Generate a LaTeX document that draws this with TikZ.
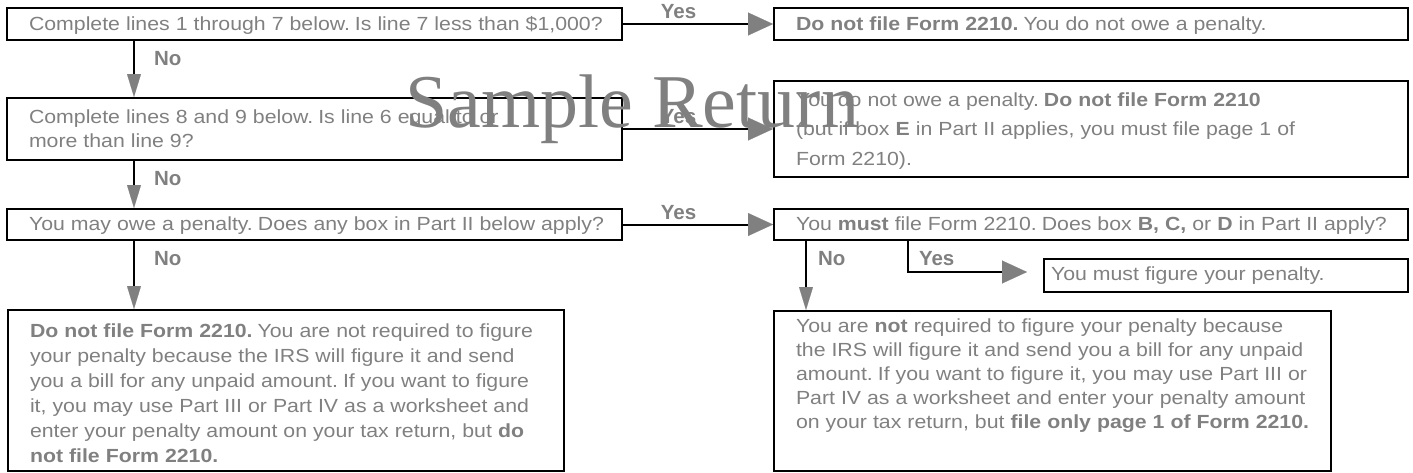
\documentclass[tikz,border=0pt]{standalone}
\usepackage{fontspec}
\setmainfont[FakeStretch=1.12]{Liberation Sans}
\newfontfamily\answerfont{Liberation Sans}
\newfontfamily\stampfont{Liberation Serif}
\usetikzlibrary{arrows.meta}
\definecolor{txtgray}{HTML}{808080}
\definecolor{tipgray}{HTML}{808080}
\tikzset{
  box/.style={draw, line width=2pt, anchor=north west, inner sep=0pt, align=left, text=txtgray,
    execute at begin node={\fontsize{19}{25}\selectfont\spaceskip=6pt plus 2pt minus 1pt\leftskip=#1}},
  box/.default=22pt,
  lines/.style={execute at begin node={\fontsize{19}{#1}\selectfont}},
  answer/.style={font=\answerfont\bfseries\fontsize{20.5}{24}\selectfont, text=txtgray, inner sep=0pt},
  yesarrow/.style={line width=2pt, -{Triangle[length=25pt,width=23pt,color=tipgray,line width=0.1pt]}},
  noarrow/.style={line width=2pt, -{Triangle[length=23pt,width=14pt,color=tipgray,line width=0.1pt]}},
  stamp/.style={font=\stampfont\fontsize{76}{80}\selectfont, text=txtgray, inner sep=0pt}
}

\begin{document}
\begin{tikzpicture}[x=1pt,y=-1pt]
  \useasboundingbox (0,0) rectangle (1413,472);
  % left column
  \node[box, text width=615pt, text height=22pt, text depth=10pt] (b1) at (6,7)
    {Complete lines 1 through 7 below. Is line 7 less than \$1,000?};
  \node[box, lines=24pt, text width=615pt, text height=25pt, text depth=37pt] (b2) at (6,97)
    {Complete lines 8 and 9 below. Is line 6 equal to or\\ more than line 9?};
  \node[box, text width=615pt, text height=21pt, text depth=10pt] (b3) at (6,208)
    {You may owe a penalty. Does any box in Part II below apply?};
  \node[box, text width=556pt, text height=27pt, text depth=134pt] (b4) at (7,309)
    {\textbf{Do not file Form 2210.} You are not required to figure\\
     your penalty because the IRS will figure it and send\\
     you a bill for any unpaid amount. If you want to figure\\
     it, you may use Part III or Part IV as a worksheet and\\
     enter your penalty amount on your tax return, but \textbf{do}\\
     \textbf{not file Form 2210.}};
  % right column
  \node[box, text width=634pt, text height=22pt, text depth=10pt] (r1) at (773,7)
    {\textbf{Do not file Form 2210.} You do not owe a penalty.};
  \node[box, lines=29.5pt, text width=634pt, text height=25pt, text depth=71pt] (r2) at (773,80)
    {You do not owe a penalty. \textbf{Do not file Form 2210}\\
     (but if box \textbf{E} in Part II applies, you must file page 1 of\\
     Form 2210).};
  \node[box, text width=634pt, text height=21pt, text depth=10pt] (r3) at (773,208)
    {You \textbf{must} file Form 2210. Does box \textbf{B, C,} or \textbf{D} in Part II apply?};
  \node[box=7pt, text width=364pt, text height=21.5pt, text depth=11.5pt] (r4) at (1043,258)
    {You must figure your penalty.};
  \node[box, lines=24.2pt, text width=557pt, text height=21pt, text depth=139pt] (r5) at (773,310)
    {You are \textbf{not} required to figure your penalty because\\
     the IRS will figure it and send you a bill for any unpaid\\
     amount. If you want to figure it, you may use Part III or\\
     Part IV as a worksheet and enter your penalty amount\\
     on your tax return, but \textbf{file only page 1 of Form 2210.}};
  % columns of the down arrows
  \coordinate (lcol) at (134,0);
  \coordinate (rno) at (806,0);
  \coordinate (ryes) at (908,0);
  % yes arrows
  \draw[yesarrow] (b1.east) -- (r1.west) node[answer, pos=0.37, above=4pt] {Yes};
  \draw[yesarrow] (b2.east) -- (r2.west) node[answer, pos=0.37, above=4pt] {Yes};
  \draw[yesarrow] (b3.east) -- (r3.west) node[answer, pos=0.37, above=4pt] {Yes};
  % no arrows
  \draw[noarrow] (b1.south -| lcol) node[answer, anchor=north west, xshift=19pt, yshift=-9pt] {No}
    -- (b2.north -| lcol);
  \draw[noarrow] (b2.south -| lcol) node[answer, anchor=north west, xshift=19pt, yshift=-9pt] {No}
    -- (b3.north -| lcol);
  \draw[noarrow] (b3.south -| lcol) node[answer, anchor=north west, xshift=19pt, yshift=-9pt] {No}
    -- (b4.north -| lcol);
  \draw[noarrow] (r3.south -| rno) node[answer, anchor=north west, xshift=11pt, yshift=-9pt] {No}
    -- (r5.north -| rno);
  \draw[yesarrow, shorten >=16pt] (r3.south -| ryes) node[answer, anchor=north west, xshift=10pt, yshift=-9pt] {Yes}
    |- ([yshift=3.5pt]r4.west);
  % watermark
  \node[stamp, anchor=base west] (wm) at (405,127) {Sample Return};
\end{tikzpicture}
\end{document}
